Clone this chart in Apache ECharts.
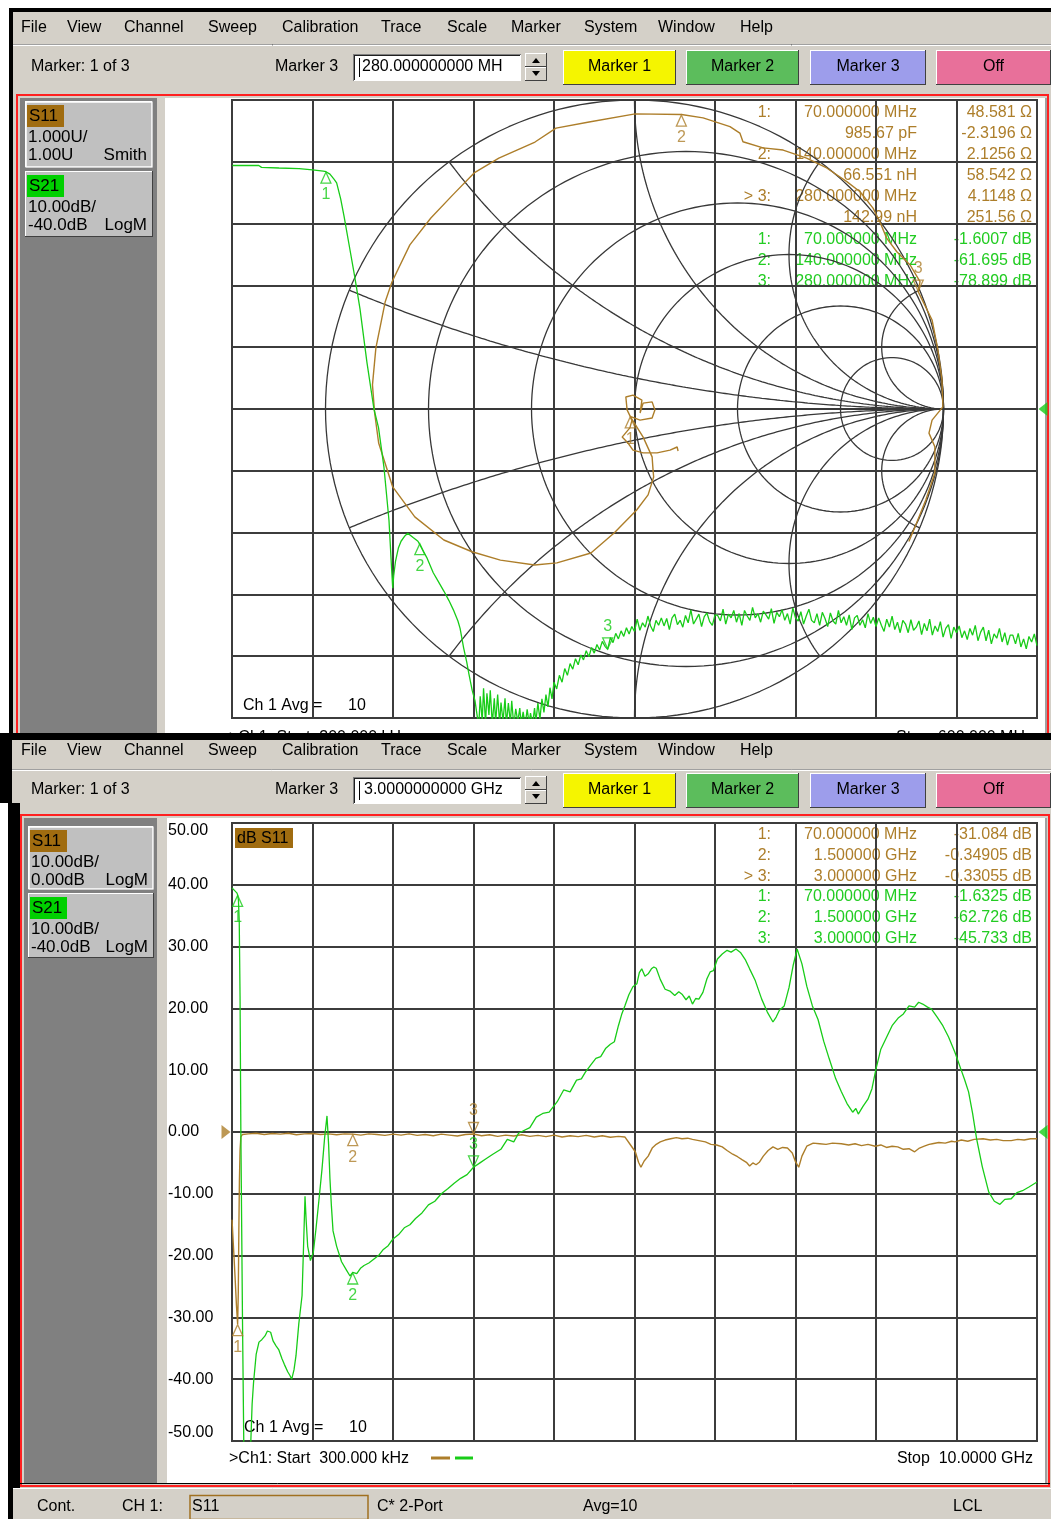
<!DOCTYPE html>
<html><head><meta charset="utf-8">
<script src="https://cdn.jsdelivr.net/npm/echarts@6/dist/echarts.min.js"></script>
<style>html,body{margin:0;padding:0;background:#fff}#c{width:1051px;height:1519px}</style>
</head><body><div id="c"></div>
<script>
// ================= DATA =================
// --- Top window: S21 LogM on 0.3 MHz .. 600 MHz (MHz, dB) ---
const topFreqMHz = [
0.3,10,20,22,35,50,60,68,70,73,
76,78,81,83.5,87,91.4,95.4,100.6,105.8,109.2,
113.3,117,119,119.8,120.5,121.9,124,126,129,131,
132.4,135,138.6,140,145.1,150,153.5,158,161.7,165,
168.4,170,172.6,175,176.6,179,181.1,183.3,184,185,
186.5,187.5,189,190,191.5,192.5,194,195.5,196.5,198,
199.5,200.5,202,203.5,204.5,206,207.5,208.5,210,211.5,
213,214.5,215.5,217,218.5,220,221.5,222.5,224,225.5,
226.5,228,229.5,231,232.5,234,235.5,237,238.5,240,
242,244,246,248,250,252,254,256,258,260,
262,264,266,268,270,272,274,276,278,280,
282,284,286,288,290,292,294,296,298,300,
302,304,306,308,310,312,314,316,318,320,
322,324,326,328,330,332,334,336,338,340,
342,344,346,348,350,352,354,356,358,360,
362,364,366,368,370,372,374,376,378,380,
382,384,386,388,390,392,394,396,398,400,
402,404,406,408,410,412,414,416,418,420,
422,424,426,428,430,432,434,436,438,440,
442,444,446,448,450,452,454,456,458,460,
462,464,466,468,470,472,474,476,478,480,
482,484,486,488,490,492,494,496,498,500,
502,504,506,508,510,512,514,516,518,520,
522,524,526,528,530,532,534,536,538,540,
542,544,546,548,550,552,554,556,558,560,
562,564,566,568,570,572,574,576,578,580,
582,584,586,588,590,592,594,596,598,600];
const topS21dB = [
-0.6,-0.6,-0.6,-0.9,-1.0,-1.1,-1.3,-1.5,-1.6,-2.0,
-2.8,-3.4,-6,-8.8,-13.1,-18.5,-23.8,-32.5,-40,-43,
-49.5,-58,-66,-69,-67,-64.6,-62.5,-61.4,-60.5,-60.1,
-60.2,-60.8,-61.4,-61.7,-64,-66.5,-67.8,-69.5,-71,-72.5,
-74.3,-75.5,-78.6,-81,-82.9,-85.5,-87.2,-90.5,-91,-86.5,
-90.5,-85.2,-91,-86,-89.5,-85.5,-91,-86.8,-90.8,-86.2,
-91,-87.5,-90.5,-86.8,-91,-87.6,-90.8,-87.2,-91.2,-88.5,
-90.6,-88.4,-91,-89,-91.2,-88.6,-90.9,-89.2,-91,-88.4,
-90.6,-87.6,-90.2,-86.9,-89.1,-86.2,-88.2,-85.1,-86.9,-84.2,
-85.3,-83.1,-84.2,-82,-83.1,-81.2,-82.1,-80.4,-81.4,-79.8,
-80.6,-79.1,-80.1,-78.6,-79.5,-78.1,-79,-77.6,-78.4,-78.9,
-77,-77.8,-76.3,-77.2,-75.9,-76.8,-75.4,-76.4,-75.2,-76,
-74.0,-75.8,-74.6,-75.3,-73.5,-75.1,-76.0,-74.2,-75.0,-73.8,
-75.1,-73.9,-75.7,-73.8,-73.2,-74.9,-74.2,-75.3,-73.4,-74.6,
-72.5,-74.8,-74.0,-73.2,-75.2,-73.6,-73.0,-74.4,-75.0,-73.3,
-73.4,-74.3,-72.4,-74.8,-73.2,-73.8,-72.6,-74.5,-73.1,-75.0,
-72.6,-73.5,-74.2,-72.1,-73.8,-73.1,-74.5,-72.7,-73.3,-74.0,
-72.3,-74.7,-72.9,-73.6,-72.5,-74.2,-73.1,-74.8,-72.2,-73.8,
-74.3,-72.8,-74.8,-73.5,-72.4,-74.2,-74.6,-73.1,-75.0,-72.9,
-73.9,-75.2,-73.0,-74.3,-74.8,-72.6,-74.6,-73.6,-75.0,-73.3,
-75.7,-73.8,-73.4,-75.0,-74.1,-75.4,-73.1,-74.7,-73.7,-75.2,
-73.8,-75.0,-76.0,-74.0,-75.3,-73.5,-75.7,-74.5,-76.2,-74.2,
-74.8,-76.2,-74.1,-75.8,-75.3,-74.3,-76.5,-74.7,-75.9,-74.0,
-76.6,-75.1,-76.0,-74.4,-76.9,-75.5,-74.9,-77.1,-75.3,-76.2,
-75.1,-77.0,-75.9,-77.3,-75.5,-76.6,-75.0,-77.5,-76.1,-75.3,
-77.5,-75.8,-78.0,-76.4,-77.1,-75.5,-77.7,-76.2,-78.2,-76.6,
-76.6,-78.0,-76.3,-78.5,-77.2,-78.8,-76.8,-77.7,-76.4,-78.3];

// --- Top window: S11 Smith trace, reflection coefficient (re, im) ---
const smithRe = [
0.141,0.138,0.115,0.073,0.028,-0.005,-0.021,-0.040,-0.015,-0.008,
-0.024,-0.028,-0.005,0.024,0.018,0.028,0.057,0.066,0.057,0.018,
-0.014,0.028,0.057,0.060,0.062,0.044,0.007,-0.066,-0.141,-0.251,
-0.323,-0.434,-0.526,-0.617,-0.711,-0.783,-0.828,-0.841,-0.848,-0.837,
-0.807,-0.785,-0.727,-0.659,-0.588,-0.519,-0.439,-0.322,-0.254,-0.147,
0.002,0.152,0.222,0.309,0.341,0.351,0.416,0.481,0.557,0.622,
0.687,0.730,0.772,0.794,0.816,0.849,0.892,0.924,0.918,0.963,
0.982,0.995,0.998,0.963,0.953,0.972,0.972,0.943,0.908,0.888];
const smithIm = [
-0.136,-0.123,-0.133,-0.142,-0.142,-0.133,-0.110,-0.091,-0.061,-0.036,
-0.003,0.039,0.045,0.029,-0.013,0.019,0.023,-0.003,-0.029,-0.036,
-0.024,-0.091,-0.155,-0.197,-0.220,-0.278,-0.327,-0.401,-0.466,-0.498,
-0.505,-0.489,-0.462,-0.424,-0.349,-0.251,-0.110,-0.013,0.078,0.197,
0.346,0.411,0.531,0.618,0.693,0.764,0.812,0.864,0.909,0.929,
0.955,0.953,0.942,0.914,0.893,0.865,0.845,0.838,0.812,0.780,
0.736,0.703,0.650,0.606,0.553,0.509,0.466,0.412,0.380,0.288,
0.191,0.094,0.007,-0.036,-0.078,-0.122,-0.207,-0.294,-0.381,-0.429];

// Smith chart graticule values
const smithResist = [0, 0.2, 0.5, 1, 2, 5];
const smithReact = [0.2, 0.5, 1, 2, 5, -0.2, -0.5, -1, -2, -5];
const z0 = 50;

// Top markers
const topMarkFreqMHz = [70, 140, 280];
const topMarkS21 = [-1.6007, -61.695, -78.899];
const topMarkR = [48.581, 2.1256, 4.1148];
const topMarkX = [-2.3196, 58.542, 251.56];

// --- Bottom window: 0.3 MHz .. 10 GHz (GHz, dB) ---
const botFreq21 = [
0.0003,0.03,0.06,0.07,0.08,0.09,0.1,0.11,0.13,0.15,
0.17,0.2,0.22,0.234,0.25,0.268,0.3,0.335,0.37,0.41,
0.44,0.48,0.51,0.547,0.58,0.621,0.65,0.692,0.72,0.742,
0.77,0.795,0.83,0.87,0.89,0.907,0.92,0.94,0.974,1.01,
1.043,1.08,1.118,1.15,1.18,1.2,1.217,1.235,1.255,1.3,
1.361,1.42,1.466,1.5,1.55,1.6,1.64,1.7,1.76,1.82,
1.88,1.94,2.0,2.07,2.14,2.21,2.28,2.36,2.44,2.52,
2.6,2.68,2.76,2.84,2.92,3.0,3.08,3.16,3.24,3.34,
3.42,3.5,3.56,3.62,3.7,3.78,3.86,3.94,4.04,4.12,
4.2,4.28,4.34,4.39,4.46,4.52,4.58,4.64,4.7,4.75,
4.8,4.84,4.88,4.93,4.98,5.03,5.06,5.09,5.13,5.17,
5.21,5.24,5.27,5.32,5.38,5.44,5.5,5.55,5.59,5.64,
5.68,5.72,5.76,5.8,5.85,5.9,5.94,5.98,6.03,6.09,
6.15,6.2,6.26,6.32,6.38,6.43,6.5,6.58,6.65,6.72,
6.76,6.8,6.86,6.92,6.97,7.02,7.08,7.14,7.21,7.28,
7.35,7.42,7.5,7.57,7.64,7.71,7.75,7.78,7.84,7.9,
7.95,8.0,8.06,8.13,8.2,8.28,8.34,8.41,8.48,8.53,
8.58,8.64,8.69,8.76,8.83,8.9,8.98,9.04,9.1,9.15,
9.2,9.25,9.32,9.4,9.47,9.54,9.6,9.68,9.75,9.82,
9.9,10.0];
const botS21dB = [
-0.5,-0.9,-1.3,-1.63,-2.5,-6,-18,-40,-70,-95,
-99,-95,-93,-90,-84,-80.5,-76,-74,-73.6,-73,
-72.2,-72.4,-73.8,-74.6,-75.2,-76.7,-77.6,-78.8,-79.4,-80,
-78.5,-76.2,-71,-66.5,-58,-50.4,-54,-58.5,-60.8,-59.5,
-55.7,-51,-46,-41,-37.4,-42,-47.6,-52,-56,-58.5,
-61,-62.3,-63.3,-62.7,-62.9,-62,-61.6,-61.2,-60.6,-60,
-59,-58.4,-57.3,-56.6,-55.5,-55,-54,-53.1,-51.8,-51.2,
-50,-49.2,-48.3,-47.5,-46.9,-45.7,-45,-44.3,-43.6,-42.8,
-41.2,-41.6,-40.2,-39.8,-39.3,-37.6,-37,-36.8,-35.1,-33.2,
-33.5,-31.6,-31.4,-30.3,-29.1,-28.1,-27.8,-26.5,-25.8,-25.4,
-22.8,-21,-19.6,-17.8,-16.5,-16,-14.2,-13.6,-14.8,-14.4,
-13.6,-13.3,-13.5,-15.3,-16.9,-17.2,-17.9,-17.3,-17.7,-18.6,
-18,-19.3,-18.4,-18.5,-17.4,-15.2,-14.1,-13.9,-12,-11.2,
-10.6,-10.9,-10.4,-11,-12.2,-13.6,-15.5,-18.5,-20.6,-22.2,
-21.4,-20.3,-19.6,-16.6,-13.1,-10.4,-12.8,-16.4,-19.6,-21.8,
-25.3,-28.2,-31.4,-33.5,-35.4,-36.8,-36.2,-37.1,-35.8,-34.7,
-33,-29.8,-26.6,-24.7,-22.8,-21.5,-20.9,-19.6,-19.8,-19,
-19.3,-19.8,-20.1,-21.4,-22.8,-24.6,-27.1,-29.3,-31.5,-33.5,
-37,-41.1,-45.6,-49.7,-51.2,-51.7,-50.9,-50.8,-49.8,-49.5,
-48.9,-48.1];
const botFreq11 = [
0.0003,0.02,0.04,0.055,0.07,0.078,0.085,0.092,0.1,0.11,
0.13,0.2,0.3,0.4,0.5,0.6,0.7,0.8,0.9,1.0,
1.1,1.2,1.3,1.4,1.5,1.6,1.7,1.8,1.9,2.0,
2.1,2.2,2.3,2.4,2.5,2.6,2.7,2.8,2.9,3.0,
3.1,3.2,3.3,3.4,3.5,3.6,3.7,3.8,3.9,4.0,
4.1,4.2,4.3,4.4,4.5,4.6,4.7,4.8,4.88,4.94,
5.01,5.05,5.08,5.12,5.17,5.22,5.27,5.32,5.38,5.45,
5.52,5.59,5.66,5.72,5.8,5.88,5.95,6.02,6.09,6.15,
6.22,6.28,6.34,6.39,6.43,6.47,6.51,6.55,6.6,6.66,
6.72,6.78,6.84,6.9,6.96,7.0,7.04,7.08,7.14,7.22,
7.3,7.38,7.46,7.57,7.66,7.74,7.82,7.9,7.99,8.06,
8.13,8.2,8.27,8.34,8.41,8.48,8.54,8.6,8.66,8.7,
8.78,8.86,8.94,8.98,9.06,9.14,9.22,9.33,9.42,9.5,
9.58,9.68,9.76,9.84,9.92,10.0];
const botS11dB = [
-14.2,-19,-24,-28,-31.1,-26,-16,-8,-3,-0.8,
-0.4,-0.3,-0.2,-0.4,-0.25,-0.35,-0.2,-0.45,-0.3,-0.25,
-0.4,-0.3,-0.45,-0.3,-0.35,-0.5,-0.3,-0.4,-0.55,-0.35,
-0.5,-0.3,-0.55,-0.4,-0.6,-0.35,-0.5,-0.65,-0.4,-0.33,
-0.6,-0.45,-0.7,-0.5,-0.65,-0.45,-0.7,-0.55,-0.75,-0.5,
-0.8,-0.6,-0.75,-0.55,-0.8,-0.6,-0.85,-0.7,-0.8,-1.9,
-3.2,-4.9,-5.7,-4.7,-3.9,-2.6,-2.0,-1.6,-1.3,-1.1,
-0.9,-1.1,-1.0,-1.2,-1.4,-1.6,-2.0,-2.1,-2.4,-3.0,
-3.6,-4.0,-4.5,-4.9,-5.5,-5.0,-5.3,-4.9,-3.9,-3.0,
-2.4,-2.8,-2.5,-2.6,-3.4,-4.8,-5.7,-3.9,-2.3,-1.8,
-1.9,-2.0,-1.8,-1.9,-2.1,-1.9,-2.2,-2.0,-2.3,-2.1,
-2.5,-2.3,-2.4,-2.8,-2.7,-3.2,-2.6,-2.3,-2.0,-1.9,
-1.7,-1.8,-1.5,-1.6,-1.3,-1.5,-1.2,-1.1,-1.3,-1.2,
-1.4,-1.4,-1.2,-1.3,-1.1,-1.1];
const botMarkFreq = [0.07, 1.5, 3.0];
const botMarkS11 = [-31.084, -0.34905, -0.33055];
const botMarkS21 = [-1.6325, -62.726, -45.733];

// Axis tick settings
const topXAxis = {min: 0, max: 600, interval: 60};
const dbAxis21 = {min: -90, max: 10, interval: 10};
const botXAxis = {min: 0, max: 10, interval: 1};
const dbAxis11 = {min: -50, max: 50, interval: 10};

// Readout texts
const topReadS11 = [['1:','70.000000 MHz','48.581 Ω'],['','985.67 pF','-2.3196 Ω'],['2:','140.000000 MHz','2.1256 Ω'],['','66.551 nH','58.542 Ω'],['> 3:','280.000000 MHz','4.1148 Ω'],['','142.99 nH','251.56 Ω']];
const topReadS21 = [['1:','70.000000 MHz','-1.6007 dB'],['2:','140.000000 MHz','-61.695 dB'],['3:','280.000000 MHz','-78.899 dB']];
const botReadS11 = [['1:','70.000000 MHz','-31.084 dB'],['2:','1.500000 GHz','-0.34905 dB'],['> 3:','3.000000 GHz','-0.33055 dB']];
const botReadS21 = [['1:','70.000000 MHz','-1.6325 dB'],['2:','1.500000 GHz','-62.726 dB'],['3:','3.000000 GHz','-45.733 dB']];
const menuItems = ['File','View','Channel','Sweep','Calibration','Trace','Scale','Marker','System','Window','Help'];

// ================= STYLE =================
const FONT = '"Liberation Sans", Arial, sans-serif';
const GREEN = '#18cc18', ORANGE = '#ad7e2a', ORBG = '#a06c10', GRBG = '#00d000';
const GRIDC = '#3c3c3c', FACE = '#d4d0c8';

const G = [];
function rect(x,y,w,h,fill,stroke,lw){G.push({type:'rect',silent:true,zlevel:0,shape:{x:x,y:y,width:w,height:h},style:{fill:fill||'none',stroke:stroke||'none',lineWidth:lw||1}});}
function line(x1,y1,x2,y2,c,w){G.push({type:'line',silent:true,zlevel:0,shape:{x1:x1,y1:y1,x2:x2,y2:y2},style:{stroke:c,lineWidth:w||1}});}
function poly(pts,c){G.push({type:'polygon',silent:true,zlevel:0,shape:{points:pts},style:{fill:c}});}
function text(x,y,s,o){o=o||{};G.push({type:'text',silent:true,zlevel:0,x:x,y:y,style:{text:s,fill:o.c||'#000',font:(o.fs||16)+'px '+FONT,textAlign:o.a||'left',textVerticalAlign:'middle',verticalAlign:'middle'}});}
function bevel(x,y,w,h,fill,raised){rect(x,y,w,h,fill);const a=raised?'#ffffff':'#808080',b=raised?'#404040':'#ffffff';line(x,y+0.5,x+w,y+0.5,a);line(x+0.5,y,x+0.5,y+h,a);line(x,y+h-0.5,x+w,y+h-0.5,b);line(x+w-0.5,y,x+w-0.5,y+h,b);}

const menuX = [21,67,124,208,282,381,447,511,584,658,740];
function menuBar(y){menuItems.forEach((m,i)=>text(menuX[i],y,m));}
function toolbar(y, inputText, inputX){
  text(31,y,'Marker: 1 of 3');
  text(275,y,'Marker 3');
  rect(353,y-13,168,27,'#fff');
  line(353,y-12.5,521,y-12.5,'#808080');line(353.5,y-13,353.5,y+14,'#808080');
  line(354,y-11.5,520,y-11.5,'#202020');line(354.5,y-12,354.5,y+13,'#202020');
  line(359.5,y-9,359.5,y+10,'#000');
  text(inputX,y,inputText);
  bevel(525,y-14,22,14,FACE,true);bevel(525,y,22,14,FACE,true);
  poly([[532,y-4],[540,y-4],[536,y-9]],'#000');poly([[532,y+4],[540,y+4],[536,y+9]],'#000');
  const btns=[['Marker 1',563,113,'#f5f500'],['Marker 2',686,113,'#5cbd5c'],['Marker 3',810,116,'#9d9deb'],['Off',936,115,'#e8709a']];
  btns.forEach(b=>{bevel(b[1],y-17,b[2],35,b[3],true);text(b[1]+b[2]/2,y,b[0],{a:'center'});});
}
function traceBox(x,y,w,h,lbl,bg,l1,l2,kind,active){
  bevel(x,y,w,h,'#c0c0c0',true);
  if(active){rect(x+1,y+1,w-2,h-2,'none','#ffffff',1.5);}
  rect(x+2,y+4,37,22,bg);
  text(x+4,y+15,lbl,{fs:17});
  text(x+3,y+36,l1,{fs:17});
  text(x+3,y+54,l2,{fs:17});
  text(x+w-6,y+54,kind,{fs:17,a:'right'});
}
function readouts(rowsO,rowsG,y0,dy){
  rowsO.concat(rowsG).forEach((r,i)=>{const c=i<rowsO.length?ORANGE:'#22cc22';const y=y0+dy*i;
    if(r[0])text(771,y,r[0],{c:c,a:'right'});text(917,y,r[1],{c:c,a:'right'});text(1032,y,r[2],{c:c,a:'right'});});
}

// ---------- top window ----------
rect(9,8,1042,728,'#000');
rect(13,12,1038,32,FACE);
menuBar(28);
line(13,44.5,1051,44.5,'#a0a0a0');line(13,45.5,1051,45.5,'#ffffff');
rect(13,46,1038,46,FACE);
toolbar(67,'280.000000000 MH',362);
rect(13,92,1038,644,FACE);
rect(17,95,1031,660,'none','#ff2020',2);
rect(20,98,137,640,'#808080');
rect(157,98,8,640,FACE);
rect(165,98,880,640,'#ffffff');
line(1046,98,1046,736,'#a0a0a0',2);
traceBox(25,101,128,67,'S11',ORBG,'1.000U/','1.00U','Smith',true);
traceBox(25,171,128,66,'S21',GRBG,'10.00dB/','-40.0dB','LogM',false);
readouts(topReadS11,topReadS21,112.5,21.1);
text(243,706,'Ch 1 Avg =');text(348,706,'10');
text(229,738,'>Ch1: Start  300.000 kHz');text(1033,738,'Stop  600.000 MHz',{a:'right'});

// ---------- bottom window ----------
rect(0,733,1051,7,'#000');
rect(0,733,12,70,'#000');
rect(12,740,1039,31,FACE);
menuBar(751);
line(12,769.5,1051,769.5,'#a0a0a0');line(12,770.5,1051,770.5,'#ffffff');
rect(12,771,1039,40,FACE);
toolbar(790,'3.0000000000 GHz',364);
rect(12,809,1039,679,FACE);
rect(8,803,12,716,'#000');
rect(21,815,1028,671,'none','#ff2020',2);
rect(24,818,133,665,'#808080');
rect(157,818,10,665,FACE);
rect(167,818,878,665,'#ffffff');
line(1046,818,1046,1483,'#a0a0a0',2);
line(20,1483.5,1050,1483.5,'#000');
traceBox(28,826,126,64,'S11',ORBG,'10.00dB/','0.00dB','LogM',true);
traceBox(28,893,126,65,'S21',GRBG,'10.00dB/','-40.0dB','LogM',false);
readouts(botReadS11,botReadS21,834.5,20.8);
rect(235,828,58,20,ORBG);text(237,838.5,'dB S11');
text(244,1428,'Ch 1 Avg =');text(349,1428,'10');
text(229,1459,'>Ch1: Start  300.000 kHz');
line(431,1458,450,1458,ORANGE,3);line(455,1458,473,1458,GREEN,3);
text(1033,1459,'Stop  10.0000 GHz',{a:'right'});
// status bar
rect(13,1488,1038,31,FACE);
line(13,1488.5,1051,1488.5,'#ffffff');
rect(8,1488,5,31,'#000');
text(37,1507,'Cont.');text(122,1507,'CH 1:');
rect(190,1495.5,178,24,'none','#a07020',1.5);text(192,1507,'S11');
text(377,1507,'C* 2-Port');text(583,1507,'Avg=10');text(953,1507,'LCL');

// ================= SERIES =================
function gamma(R,X){const r=R/z0,x=X/z0,d=(r+1)*(r+1)+x*x;return [(r*r+x*x-1)/d,2*x/d];}
const series = [];
function base(o){return Object.assign({type:'line',symbol:'none',showSymbol:false,silent:true,animation:false,zlevel:1,clip:true},o);}
// Smith graticule: constant resistance circles
smithResist.forEach(r=>{const cx=r/(1+r),rad=1/(1+r),pts=[];for(let i=0;i<=180;i++){const a=i/180*2*Math.PI;pts.push([cx+rad*Math.cos(a),rad*Math.sin(a)]);}
  series.push(base({xAxisIndex:1,yAxisIndex:1,z:1,data:pts,lineStyle:{color:'#383838',width:1.3}}));});
// constant reactance arcs
smithReact.forEach(x=>{const pts=[];for(let i=0;i<200;i++){const t=i/200,r=t/(1-t);pts.push(gamma(r*z0,x*z0));}pts.push([1,0]);
  series.push(base({xAxisIndex:1,yAxisIndex:1,z:1,data:pts,lineStyle:{color:'#383838',width:1.3}}));});
series.push(base({xAxisIndex:1,yAxisIndex:1,z:1,data:[[-1,0],[1,0]],lineStyle:{color:'#383838',width:1.3}}));
// traces
series.push(base({name:'S11 Smith',xAxisIndex:1,yAxisIndex:1,z:3,data:smithRe.map((v,i)=>[v,smithIm[i]]),lineStyle:{color:ORANGE,width:1.4}}));
series.push(base({name:'S21 top',xAxisIndex:0,yAxisIndex:0,z:3,data:topFreqMHz.map((v,i)=>[v,topS21dB[i]]),lineStyle:{color:GREEN,width:1.3}}));
series.push(base({name:'S11 bottom',xAxisIndex:2,yAxisIndex:2,z:3,data:botFreq11.map((v,i)=>[v,botS11dB[i]]),lineStyle:{color:ORANGE,width:1.4}}));
series.push(base({name:'S21 bottom',xAxisIndex:2,yAxisIndex:3,z:4,data:botFreq21.map((v,i)=>[v,botS21dB[i]]),lineStyle:{color:GREEN,width:1.3}}));
// markers
function markers(xi,yi,pts,color){
  return {type:'scatter',xAxisIndex:xi,yAxisIndex:yi,zlevel:1,z:6,silent:true,animation:false,symbol:'triangle',symbolSize:[10,11],
    itemStyle:{color:'rgba(0,0,0,0)',borderColor:color,borderWidth:1.3},
    label:{show:true,color:color,fontSize:16,fontFamily:FONT,distance:3,formatter:p=>String(p.dataIndex+1)},
    data:pts.map((p,i)=>({value:p,symbolRotate:i===2?180:0,symbolOffset:[0,i===2?-6:6],label:{position:i===2?'top':'bottom'}}))};
}
series.push(markers(0,0,topMarkFreqMHz.map((f,i)=>[f,topMarkS21[i]]),GREEN));
series.push(markers(1,1,topMarkR.map((R,i)=>gamma(R,topMarkX[i])),ORANGE));
series.push(markers(2,2,botMarkFreq.map((f,i)=>[f,botMarkS11[i]]),ORANGE));
series.push(markers(2,3,botMarkFreq.map((f,i)=>[f,botMarkS21[i]]),GREEN));
// reference position arrows
function refArrow(xi,yi,pt,rot,dx,color){return {type:'scatter',xAxisIndex:xi,yAxisIndex:yi,zlevel:1,z:6,silent:true,animation:false,clip:false,symbol:'triangle',symbolSize:[14,9],symbolRotate:rot,symbolOffset:[dx,0],itemStyle:{color:color},data:[pt]};}
series.push(refArrow(0,0,[topXAxis.max,-40],90,6,GREEN));
series.push(refArrow(2,3,[botXAxis.max,-40],90,6,GREEN));
series.push(refArrow(2,2,[botXAxis.min,0],-90,-6,ORANGE));

const split = {show:true,lineStyle:{color:GRIDC,width:2}};
function vaxis(grid,cfg,extra){return Object.assign({gridIndex:grid,type:'value',zlevel:1,min:cfg.min,max:cfg.max,interval:cfg.interval,axisLine:{show:false},axisTick:{show:false},axisLabel:{show:false},splitLine:split},extra||{});}

const option = {
  animation:false,
  backgroundColor:'#ffffff',
  grid:[
    {left:232,top:100,width:805,height:618,show:true,borderColor:GRIDC,borderWidth:2,zlevel:1},
    {left:232,top:100,width:805,height:618,show:false,zlevel:1},
    {left:232,top:823,width:805,height:618,show:true,borderColor:GRIDC,borderWidth:2,zlevel:1}
  ],
  xAxis:[
    vaxis(0,topXAxis),
    {gridIndex:1,type:'value',min:-1.30259,max:1.30259,show:false},
    vaxis(2,botXAxis)
  ],
  yAxis:[
    vaxis(0,dbAxis21),
    {gridIndex:1,type:'value',min:-1,max:1,show:false},
    vaxis(2,dbAxis11,{axisLabel:{show:true,formatter:v=>v.toFixed(2),align:'left',margin:64,color:'#000',fontSize:16,fontFamily:FONT,verticalAlignMaxLabel:'top',verticalAlignMinLabel:'bottom'}}),
    Object.assign(vaxis(2,dbAxis21),{show:false})
  ],
  series:series,
  graphic:{elements:G}
};
const chart = echarts.init(document.getElementById('c'),null,{renderer:'canvas'});
chart.setOption(option);
</script>
</body></html>
